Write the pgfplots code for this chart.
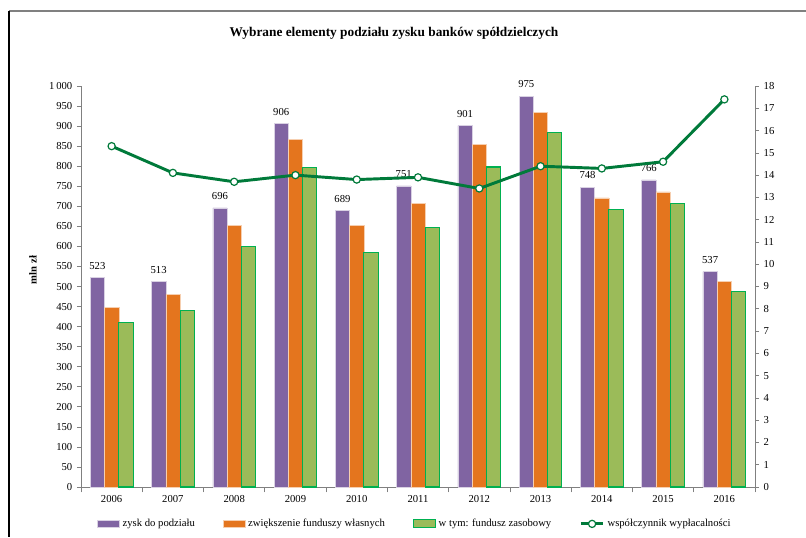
\documentclass[border=0pt]{standalone}
\usepackage{pgfplots}
\pgfplotsset{compat=1.18}
\usepackage{fontspec}
\setmainfont{Liberation Serif}

\definecolor{cpurple}{HTML}{8064A2}
\definecolor{corange}{HTML}{E4751E}
\definecolor{cgreen}{HTML}{9BBB59}
\definecolor{cgreenedge}{HTML}{00B050}
\definecolor{cline}{HTML}{007A3A}
\definecolor{caxis}{HTML}{808080}

\pgfplotsset{
  common/.style={
    at={(60.75pt,37.5pt)}, anchor=south west,
    scale only axis, width=505.5pt, height=300.75pt,
    xmin=-0.5, xmax=10.5,
    clip=false,
    tick align=outside,
    tick style={caxis, line width=0.5pt},
    axis line style={caxis, line width=0.6pt, -},
    ticklabel style={font=\fontsize{8}{9}\selectfont},
    /pgf/number format/assume math mode=true,
    /pgf/number format/1000 sep={\,},
  },
}

\begin{document}
\begin{tikzpicture}[x=1pt,y=1pt]
\path[use as bounding box] (0,0) rectangle (604.5,402.75);
\draw[gray, line width=1.2pt] (6.75,394.5) -- (604.5,394.5);
\draw[black, line width=0.8pt] (6.75,394.5) -- (6.75,0);
\node[font=\bfseries\fontsize{10}{12}\selectfont] at (295.5,378)
  {Wybrane elementy podziału zysku banków spółdzielczych};
\node[rotate=90, font=\bfseries\fontsize{8}{9}\selectfont] at (24.75,200.25) {mln zł};

\begin{axis}[
  common,
  ybar=0pt, bar width=10.7pt,
  ymin=0, ymax=1000,
  axis x line*=bottom, axis y line*=left,
  xtick={0,...,10},
  xticklabels={2006,2007,2008,2009,2010,2011,2012,2013,2014,2015,2016},
  major x tick style={draw=none},
  minor xtick={-0.5,0.5,...,10.5},
  minor tick length=4pt,
  major tick length=3pt,
  ytick={0,50,...,1000},
  legend columns=4,
  legend style={at={(0.496,-0.092)}, anchor=center, draw=none,
    font=\fontsize{8}{9}\selectfont,
    /tikz/every even column/.append style={column sep=19pt}},
  legend image code/.code={\draw[#1] (0pt,-2.6pt) rectangle (16.5pt,3pt);},
]
\addplot[fill=cpurple, draw=white!70!cpurple, line width=0.4pt,
  nodes near coords,
  every node near coord/.append style={font=\fontsize{8}{9}\selectfont, yshift=2.5pt, black}]
  coordinates {(0,523) (1,513) (2,696) (3,906) (4,689) (5,751) (6,901) (7,975) (8,748) (9,766) (10,537)};
\addplot[fill=corange, draw=white!65!corange, line width=0.4pt]
  coordinates {(0,448) (1,481) (2,653) (3,867) (4,652) (5,707) (6,855) (7,934) (8,721) (9,736) (10,512)};
\addplot[fill=cgreen, draw=cgreenedge, line width=0.8pt]
  coordinates {(0,410) (1,440) (2,600) (3,797) (4,585) (5,646) (6,798) (7,885) (8,693) (9,707) (10,488)};
\addlegendimage{legend image code/.code={
    \draw[cline, line width=2.2pt] (0pt,0pt) -- (17pt,0pt);
    \draw[cline, fill=white, line width=0.9pt] (8.5pt,0pt) circle (2.7pt);}}
\legend{zysk do podziału, zwiększenie funduszy własnych, w tym: fundusz zasobowy, współczynnik wypłacalności}
\end{axis}

\begin{axis}[
  common,
  ymin=0, ymax=18,
  axis y line*=right, axis x line=none,
  ytick={0,...,18},
  major tick length=3pt,
]
\addplot[cline, line width=2.2pt, mark=*, mark size=2.7pt,
  mark options={fill=white, draw=cline, line width=0.9pt}]
  coordinates {(0,15.3) (1,14.1) (2,13.7) (3,14.0) (4,13.8) (5,13.9) (6,13.4) (7,14.4) (8,14.3) (9,14.6) (10,17.4)};
\end{axis}
\end{tikzpicture}
\end{document}
